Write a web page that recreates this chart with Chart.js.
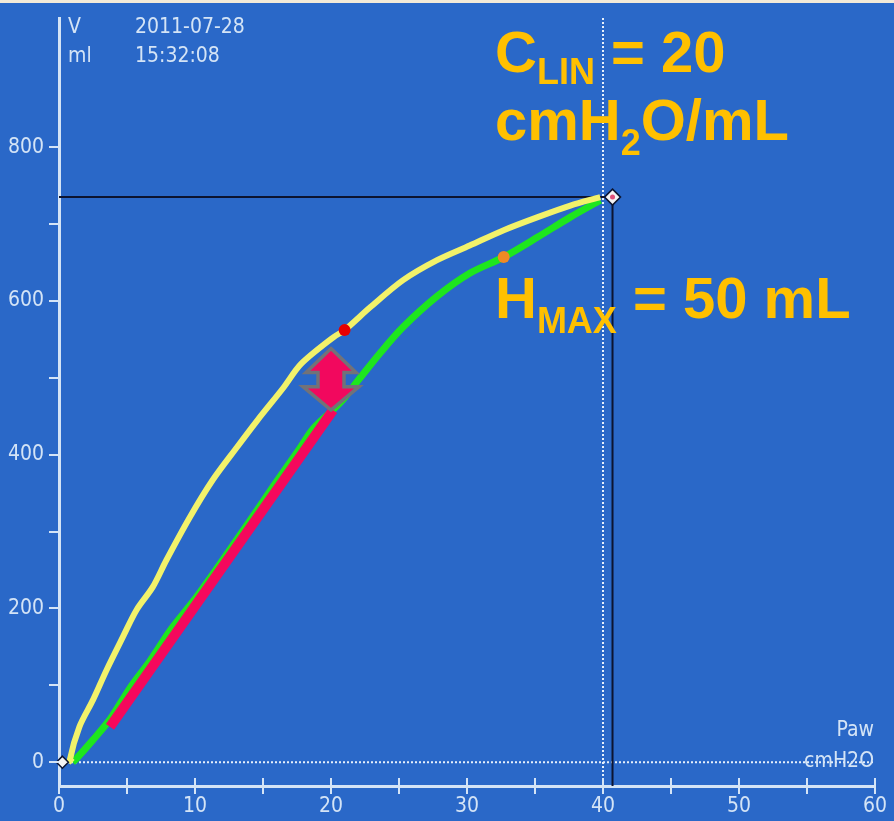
<!DOCTYPE html>
<html>
<head>
<meta charset="utf-8">
<script src="https://cdn.jsdelivr.net/npm/chart.js@4"></script>
<style>
  html, body { margin: 0; padding: 0; background: #2a68c8; }
  canvas { display: block; }
</style>
</head>
<body>
<canvas id="pv-chart" width="894" height="821"></canvas>
<script>
// inspiratory limb (yellow)
const inspPaw = [1.0, 0.8, 1.5, 2.5, 3.5, 4.7, 5.7, 6.9, 7.9, 9.6, 11.3, 13.1, 14.6, 16.5, 17.8, 20.2, 21.0, 22.9, 25.3, 27.8, 30.2, 32.7, 35.2, 37.6, 39.8];
const inspVol = [0, 3, 46, 81, 120, 163, 198, 228, 263, 318, 367, 410, 445, 487, 518, 553, 562, 592, 627, 653, 672, 692, 709, 724, 735];
// expiratory limb (green)
const expPaw = [1.0, 1.2, 2.5, 3.8, 5.2, 6.7, 8.2, 9.9, 11.6, 14.3, 16.0, 17.7, 18.7, 20.7, 22.1, 23.6, 25.3, 27.8, 30.2, 32.7, 35.2, 37.6, 39.8];
const expVol = [0, 3, 29, 57, 96, 132, 172, 210, 252, 321, 365, 408, 434, 468, 499, 532, 566, 606, 636, 657, 683, 709, 731];
// linear compliance line (red)
const linPaw = [3.75, 20.15];
const linVol = [46, 458];
// markers
const redDot = [21.0, 562];
const orangeDot = [32.7, 657];
const cursorPt = [40.7, 735];
const arrowPaw = 20;
const arrowVol = [458, 538];
const xTicks = [0, 10, 20, 30, 40, 50, 60];
const yTicks = [0, 200, 400, 600, 800];

const toPts = (xs, ys) => xs.map((x, i) => ({ x: x, y: ys[i] }));

const LIGHT = '#d4e4f6';
const TICK_FONT = '"DejaVu Sans Condensed", "DejaVu Sans", sans-serif';

const overlay = {
  id: 'overlay',
  beforeDraw(chart) {
    const ctx = chart.ctx;
    ctx.save();
    ctx.fillStyle = '#2a68c8';
    ctx.fillRect(0, 0, chart.width, chart.height);
    ctx.fillStyle = '#f3ead8';
    ctx.fillRect(0, 0, chart.width, 3);
    ctx.restore();
  },
  beforeDatasetsDraw(chart) {
    const { ctx, chartArea, scales: { x, y } } = chart;
    ctx.save();
    // dotted zero and 40 lines
    ctx.strokeStyle = '#e6f0fb';
    ctx.lineWidth = 2;
    ctx.setLineDash([2, 2]);
    ctx.beginPath();
    ctx.moveTo(chartArea.left, y.getPixelForValue(0));
    ctx.lineTo(chartArea.right - 2, y.getPixelForValue(0));
    ctx.moveTo(x.getPixelForValue(40), chartArea.top);
    ctx.lineTo(x.getPixelForValue(40), chartArea.bottom);
    ctx.stroke();
    // black cursor lines
    ctx.setLineDash([]);
    ctx.strokeStyle = '#0c1430';
    ctx.lineWidth = 2;
    const cx = x.getPixelForValue(cursorPt[0]);
    const cy = y.getPixelForValue(cursorPt[1]);
    ctx.beginPath();
    ctx.moveTo(chartArea.left, cy);
    ctx.lineTo(cx, cy);
    ctx.moveTo(cx, cy);
    ctx.lineTo(cx, chartArea.bottom);
    ctx.stroke();
    ctx.restore();
  },
  afterDatasetsDraw(chart) {
    const { ctx, scales: { x, y } } = chart;
    ctx.save();
    // double arrow
    const ax = x.getPixelForValue(arrowPaw);
    const top = y.getPixelForValue(arrowVol[1]);
    const bot = y.getPixelForValue(arrowVol[0]);
    const h = bot - top;
    const pts = [
      [ax, top], [ax + 25, top + 0.39 * h], [ax + 13, top + 0.39 * h],
      [ax + 13, top + 0.62 * h], [ax + 28, top + 0.62 * h], [ax, bot],
      [ax - 28, top + 0.62 * h], [ax - 13, top + 0.62 * h],
      [ax - 13, top + 0.39 * h], [ax - 25, top + 0.39 * h]
    ];
    ctx.beginPath();
    pts.forEach((p, i) => (i ? ctx.lineTo(p[0], p[1]) : ctx.moveTo(p[0], p[1])));
    ctx.closePath();
    ctx.fillStyle = '#f2085e';
    ctx.fill();
    ctx.strokeStyle = '#727278';
    ctx.lineWidth = 3.5;
    ctx.lineJoin = 'miter';
    ctx.stroke();

    // cursor diamond
    const drawDiamond = (px, py, r) => {
      ctx.beginPath();
      ctx.moveTo(px, py - r);
      ctx.lineTo(px + r, py);
      ctx.lineTo(px, py + r);
      ctx.lineTo(px - r, py);
      ctx.closePath();
      ctx.fillStyle = '#f4f4f4';
      ctx.fill();
      ctx.strokeStyle = '#0c1430';
      ctx.lineWidth = 1.5;
      ctx.stroke();
    };
    const cx = x.getPixelForValue(cursorPt[0]);
    const cy = y.getPixelForValue(cursorPt[1]);
    drawDiamond(cx, cy, 8);
    ctx.fillStyle = '#e0507a';
    ctx.beginPath();
    ctx.arc(cx, cy, 2.5, 0, Math.PI * 2);
    ctx.fill();
    drawDiamond(x.getPixelForValue(0.25), y.getPixelForValue(0), 6);
    ctx.restore();
  },
  afterDraw(chart) {
    const { ctx, chartArea, scales: { x, y } } = chart;
    ctx.save();
    // axis tick marks
    ctx.strokeStyle = LIGHT;
    ctx.lineWidth = 2;
    ctx.beginPath();
    for (let v = 0; v <= 60; v += 5) {
      const px = Math.round(x.getPixelForValue(v));
      ctx.moveTo(px, chartArea.bottom - 8);
      ctx.lineTo(px, chartArea.bottom + 8);
    }
    for (let v = 0; v <= 800; v += 100) {
      const py = Math.round(y.getPixelForValue(v));
      ctx.moveTo(chartArea.left - 10, py);
      ctx.lineTo(chartArea.left, py);
    }
    ctx.stroke();

    // small header texts
    ctx.fillStyle = LIGHT;
    ctx.font = '21px ' + TICK_FONT;
    ctx.textBaseline = 'middle';
    ctx.textAlign = 'left';
    ctx.fillText('V', 68, 28);
    ctx.fillText('ml', 68, 57);
    ctx.fillText('2011-07-28', 135, 28);
    ctx.fillText('15:32:08', 135, 57);
    ctx.textAlign = 'right';
    ctx.fillText('Paw', 874, 731);
    ctx.fillText('cmH2O', 874, 762);

    // big annotation text
    const runs = (lines, x0, y0) => {
      let px = x0;
      lines.forEach(r => {
        ctx.font = 'bold ' + r.size + 'px "Liberation Sans", Arial, sans-serif';
        ctx.fillText(r.t, px, y0 + r.dy);
        px += ctx.measureText(r.t).width;
      });
    };
    ctx.fillStyle = '#ffc000';
    ctx.textAlign = 'left';
    ctx.textBaseline = 'alphabetic';
    runs([{ t: 'C', size: 58, dy: 0 }, { t: 'LIN', size: 36, dy: 12 }, { t: ' = 20', size: 58, dy: 0 }], 495, 72);
    runs([{ t: 'cmH', size: 58, dy: 0 }, { t: '2', size: 36, dy: 15 }, { t: 'O/mL', size: 58, dy: 0 }], 495, 140);
    runs([{ t: 'H', size: 58, dy: 0 }, { t: 'MAX', size: 36, dy: 15 }, { t: ' = 50 mL', size: 58, dy: 0 }], 495, 318);
    ctx.restore();
  }
};

new Chart(document.getElementById('pv-chart'), {
  type: 'scatter',
  data: {
    datasets: [
      {
        data: [{ x: redDot[0], y: redDot[1] }],
        pointRadius: 6,
        pointBackgroundColor: '#e80000',
        pointBorderWidth: 0
      },
      {
        data: [{ x: orangeDot[0], y: orangeDot[1] }],
        pointRadius: 6,
        pointBackgroundColor: '#f08a24',
        pointBorderWidth: 0
      },
      {
        data: toPts(linPaw, linVol),
        showLine: true,
        borderColor: '#f5085c',
        borderWidth: 10,
        borderCapStyle: 'butt',
        pointRadius: 0
      },
      {
        data: toPts(inspPaw, inspVol),
        showLine: true,
        borderColor: '#f2f26a',
        borderWidth: 6,
        tension: 0.3,
        pointRadius: 0
      },
      {
        data: toPts(expPaw, expVol),
        showLine: true,
        borderColor: '#1ee61e',
        borderWidth: 7,
        tension: 0.3,
        pointRadius: 0
      }
    ]
  },
  options: {
    responsive: false,
    animation: false,
    layout: { padding: { top: 18, right: 19, left: 0, bottom: 0 } },
    plugins: { legend: { display: false }, tooltip: { enabled: false } },
    scales: {
      x: {
        type: 'linear',
        min: 0,
        max: 60,
        afterFit: s => { s.height = 35; s.paddingLeft = 0; s.paddingRight = 0; },
        afterBuildTicks: s => { s.ticks = xTicks.map(v => ({ value: v })); },
        grid: { display: true, drawOnChartArea: false, drawTicks: false },
        border: { color: LIGHT, width: 3 },
        ticks: { color: LIGHT, padding: 8, font: { family: TICK_FONT, size: 21 }, maxRotation: 0 }
      },
      y: {
        type: 'linear',
        min: -31,
        max: 968,
        afterFit: s => { s.width = 59; s.paddingTop = 0; s.paddingBottom = 0; },
        afterBuildTicks: s => { s.ticks = yTicks.map(v => ({ value: v })); },
        grid: { display: true, drawOnChartArea: false, drawTicks: false },
        border: { color: LIGHT, width: 3 },
        ticks: { color: LIGHT, padding: 15, font: { family: TICK_FONT, size: 21 } }
      }
    }
  },
  plugins: [overlay]
});
</script>
</body>
</html>
